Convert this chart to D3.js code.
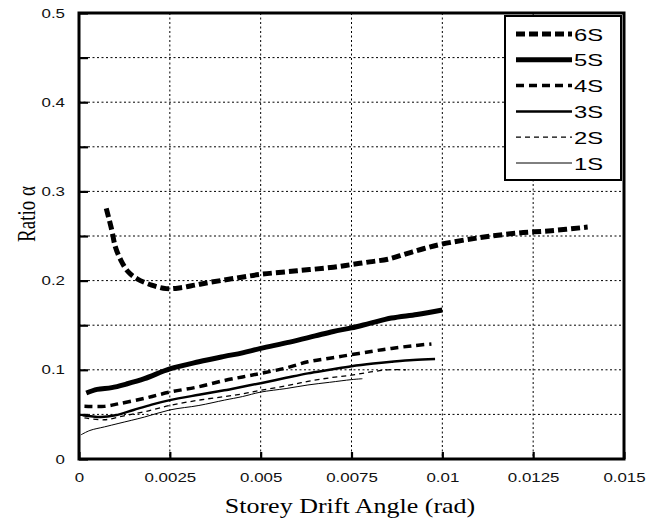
<!DOCTYPE html>
<html><head><meta charset="utf-8">
<script src="https://cdn.jsdelivr.net/npm/d3@7"></script>
<style>body{margin:0;background:#fff}svg{display:block}</style>
</head><body><svg id="c" width="664" height="523"></svg>
<script>
const xTicks = [0, 0.0025, 0.005, 0.0075, 0.01, 0.0125, 0.015];
const xTickLabels = ["0", "0.0025", "0.005", "0.0075", "0.01", "0.0125", "0.015"];
const yTicks = [0, 0.1, 0.2, 0.3, 0.4, 0.5];
const yTickLabels = ["0", "0.1", "0.2", "0.3", "0.4", "0.5"];
const yGrid = [0.05, 0.1, 0.15, 0.2, 0.25, 0.3, 0.35, 0.4, 0.45];

const seriesNames = ["6S", "5S", "4S", "3S", "2S", "1S"];
const x6S = [0.00075,0.0009,0.001,0.00115,0.00135,0.0016,0.002,0.0024,0.0028,0.0032,0.0036,0.0042,0.005,0.006,0.007,0.0075,0.008,0.0085,0.009,0.0095,0.01,0.011,0.012,0.013,0.014];
const y6S = [0.281,0.257,0.238,0.223,0.21,0.202,0.195,0.191,0.192,0.195,0.198,0.202,0.207,0.211,0.215,0.218,0.221,0.224,0.23,0.236,0.241,0.248,0.253,0.256,0.26];
const x5S = [0.0002,0.0005,0.0009,0.0013,0.0018,0.0025,0.0033,0.004,0.0045,0.005,0.0058,0.0065,0.007,0.0075,0.008,0.0086,0.0093,0.01];
const y5S = [0.074,0.078,0.08,0.084,0.09,0.101,0.109,0.115,0.119,0.124,0.131,0.138,0.143,0.147,0.152,0.158,0.162,0.167];
const x4S = [0.00015,0.0007,0.0011,0.0018,0.0025,0.0033,0.004,0.0045,0.005,0.0057,0.0063,0.0069,0.0075,0.0081,0.0086,0.0092,0.0097];
const y4S = [0.059,0.059,0.062,0.068,0.075,0.081,0.088,0.092,0.096,0.102,0.109,0.113,0.117,0.121,0.124,0.127,0.129];
const x3S = [0.0001,0.0006,0.001,0.0015,0.002,0.0025,0.0033,0.004,0.0045,0.005,0.0057,0.0063,0.0069,0.0075,0.0081,0.0086,0.0092,0.0098];
const y3S = [0.049,0.047,0.049,0.055,0.061,0.066,0.072,0.077,0.081,0.085,0.091,0.096,0.1,0.104,0.107,0.109,0.111,0.112];
const x2S = [0.00015,0.0007,0.0013,0.0018,0.0025,0.0033,0.004,0.0045,0.005,0.0057,0.0063,0.0069,0.0075,0.0081,0.0085,0.009];
const y2S = [0.046,0.044,0.049,0.053,0.06,0.066,0.07,0.073,0.077,0.082,0.087,0.091,0.094,0.098,0.1,0.1];
const x1S = [0.00005,0.0003,0.0007,0.0011,0.0018,0.0025,0.0033,0.004,0.0045,0.005,0.0057,0.0063,0.0069,0.0075,0.0078];
const y1S = [0.027,0.032,0.036,0.04,0.047,0.055,0.06,0.066,0.07,0.075,0.079,0.083,0.086,0.089,0.09];

const seriesX = [x6S, x5S, x4S, x3S, x2S, x1S];
const seriesY = [y6S, y5S, y4S, y3S, y2S, y1S];
const styles = [
  {w: 5, dash: "9,4"},
  {w: 5, dash: null},
  {w: 3.5, dash: "8,5"},
  {w: 2.5, dash: null},
  {w: 1.3, dash: "5,4"},
  {w: 1, dash: null}
];

const svg = d3.select("#c");
const L = 79, R = 624, T = 13, B = 459;
const x = d3.scaleLinear().domain([0, 0.015]).range([L, R]);
const y = d3.scaleLinear().domain([0, 0.5]).range([B, T]);
const SANS = "Liberation Sans, Arial, sans-serif";
const SERIF = "Liberation Serif, Times New Roman, serif";
const SX = 1.3;

// grid
const g = svg.append("g");
g.selectAll(".vg").data(xTicks.slice(1, -1)).enter().append("line")
  .attr("x1", d => x(d)).attr("x2", d => x(d)).attr("y1", T).attr("y2", B)
  .attr("stroke", "#000").attr("stroke-width", 1).attr("stroke-dasharray", "2,2.5");
g.selectAll(".hg").data(yGrid).enter().append("line")
  .attr("x1", L).attr("x2", R).attr("y1", d => y(d)).attr("y2", d => y(d))
  .attr("stroke", "#000").attr("stroke-width", 1).attr("stroke-dasharray", "2,2.5");

// axes
const xAxis = d3.axisBottom(x).tickValues(xTicks).tickFormat((d, i) => xTickLabels[i]).tickSize(-7).tickPadding(14);
const yAxis = d3.axisLeft(y).tickValues(yGrid.concat([0, 0.5])).tickFormat(d => {
  const i = yTicks.findIndex(t => Math.abs(t - d) < 1e-9);
  return i >= 0 ? yTickLabels[i] : "";
}).tickSize(-9).tickPadding(14);
const xg = svg.append("g").attr("transform", `translate(0,${B})`).call(xAxis);
const yg = svg.append("g").attr("transform", `translate(${L},0)`).call(yAxis);
[xg, yg].forEach(a => {
  a.select(".domain").remove();
  a.selectAll("line").attr("stroke", "#000").attr("stroke-width", 2.2);
  a.selectAll("text").attr("font-family", SANS).attr("font-size", 13).attr("fill", "#111");
});
// horizontally stretched tick labels, as in the reference
xg.selectAll(".tick text").each(function() {
  const t = d3.select(this);
  t.attr("transform", `translate(0,${+t.attr("y")}) scale(${SX},1)`).attr("y", 0).attr("dy", "0.71em");
});
yg.selectAll(".tick text").each(function() {
  const t = d3.select(this);
  t.attr("transform", `translate(${+t.attr("x")},0) scale(${SX},1)`).attr("x", 0);
});

// lines
const line = d3.line().x(d => x(d[0])).y(d => y(d[1])).curve(d3.curveCatmullRom);
seriesNames.forEach((n, i) => {
  const pts = seriesX[i].map((v, j) => [v, seriesY[i][j]]);
  svg.append("path").datum(pts).attr("d", line).attr("fill", "none")
    .attr("stroke", "#000").attr("stroke-width", styles[i].w)
    .attr("stroke-dasharray", styles[i].dash).attr("stroke-linejoin", "round");
});

// frame
svg.append("rect").attr("x", L).attr("y", T).attr("width", R - L).attr("height", B - T)
  .attr("fill", "none").attr("stroke", "#000").attr("stroke-width", 3);

// legend
const lg = svg.append("g");
lg.append("rect").attr("x", 505).attr("y", 16).attr("width", 116).attr("height", 164)
  .attr("fill", "#fff").attr("stroke", "#000").attr("stroke-width", 2);
seriesNames.forEach((n, i) => {
  const yy = 34 + i * 25.8;
  lg.append("line").attr("x1", 516).attr("x2", 572).attr("y1", yy).attr("y2", yy)
    .attr("stroke", "#000").attr("stroke-width", styles[i].w).attr("stroke-dasharray", styles[i].dash);
  lg.append("text").attr("transform", `translate(574,${yy + 6.5}) scale(1.4,1)`).text(n)
    .attr("font-family", SANS).attr("font-size", 17).attr("fill", "#000");
});

// titles
svg.append("text").attr("transform", `translate(350,513) scale(${SX},1)`).attr("text-anchor", "middle")
  .attr("font-family", SERIF).attr("font-size", 20).text("Storey Drift Angle (rad)");
svg.append("text").attr("transform", "translate(35,214) rotate(-90) scale(1,1.3)").attr("text-anchor", "middle")
  .attr("font-family", SERIF).attr("font-size", 19).text("Ratio α");
</script></body></html>
